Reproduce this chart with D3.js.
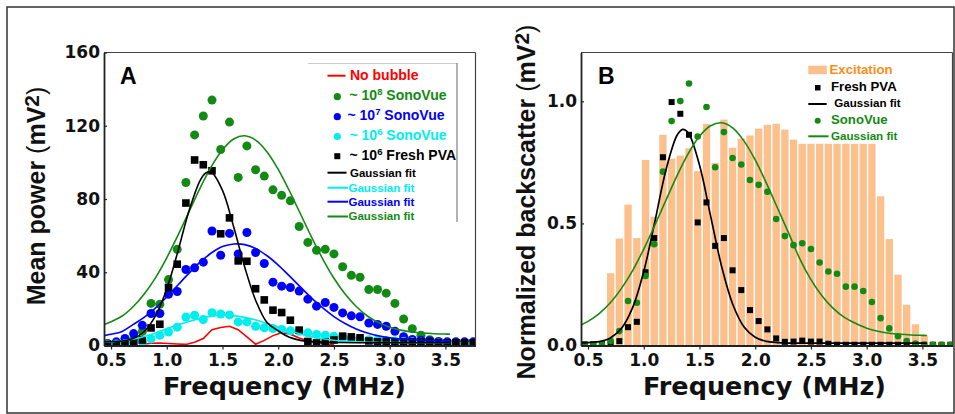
<!DOCTYPE html>
<html><head><meta charset="utf-8">
<script src="https://cdn.jsdelivr.net/npm/d3@7"></script>
<style>body{margin:0;background:#fff} svg{display:block}</style>
</head><body><svg id="c" width="955" height="414"></svg>
<script>
// ---------- data ----------
const freqs = [0.469,0.547,0.625,0.703,0.781,0.859,0.938,1.016,1.094,1.172,1.250,1.328,1.406,1.484,1.563,1.641,1.719,1.797,1.875,1.953,2.031,2.109,2.188,2.266,2.344,2.422,2.500,2.578,2.656,2.734,2.813,2.891,2.969,3.047,3.125,3.203,3.281,3.359,3.438,3.516,3.594,3.672,3.750];
// Panel A (mean power, mV^2)
const sono8A = [1,1,2,3.5,7.7,23,22.5,36,52.5,89,115,125.3,134,107,122,91.8,109,96,92.5,85,82,79,65,56.3,52,52.5,50,43,38.3,37.3,30.6,30.6,28.6,23,14.5,9.2,5.6,3.2,1.4,0.6,0.5,0.5,0.5];
const sono7A = [1,2,3.8,6.5,11,17.5,17.5,28,29.5,41.5,42.4,45.5,62.5,49.3,61.2,50,61.7,50.8,44.8,34.6,32.4,31.7,29.7,25.3,21.5,23.5,20.8,17.8,16.2,15.7,12.3,11.5,10.5,7.8,4.8,3.3,2.9,2.6,2.2,2,2,2,2];
const sono6A = [0.5,0.8,1,1.5,2,3.6,5.6,7.4,10,15.5,16.5,14.2,17.9,17.2,16.7,12.9,12.9,10.5,9.7,9.3,8.8,8,7.8,6.9,6,5.6,5,4.5,4,3.6,3.2,3,2.7,2.5,2.2,2,1.8,1.6,1.4,1.2,1,1,1];
const pvaA = [0.5,0.5,1,1.5,3,9.6,11.6,31.7,44.4,77.8,101.3,98.7,95.4,61,69.7,46.2,46,31,24.9,19.3,18,13.8,8.4,2.2,1.4,2,3,5.1,4.7,4.2,2.5,2,2,2,2,2,2,2,1.5,1.5,1.5,1.5,1.5];
const redFreq = [0.781,0.859,0.938,1.016,1.094,1.172,1.250,1.328,1.406,1.484,1.563,1.641,1.719,1.797,1.875,1.953,2.031,2.109,2.188,2.266,2.344,2.422,2.500];
const noBubbleA = [0.7,1.2,1.4,1.1,0.8,0.6,1.8,3.8,8.6,9.8,10.5,8.6,4.7,0.7,2.8,5.4,7.0,6.2,4.1,2.6,1.6,1.0,0.5];
// Gaussian fit curves
const fitFreq = [0.44,0.5,0.6,0.7,0.8,0.9,1.0,1.1,1.2,1.3,1.4,1.5,1.6,1.7,1.8,1.9,2.0,2.1,2.2,2.3,2.4,2.5,2.6,2.7,2.8,2.9,3.0,3.1,3.2,3.3,3.4,3.5,3.54];
const blackFitFreq = [0.44,0.5,0.6,0.7,0.8,0.9,1.0,1.1,1.2,1.3,1.35,1.4,1.5,1.6,1.7,1.8,1.9,2.0,2.1,2.2,2.3,2.5,2.7,2.9,3.1,3.3,3.54];
const greenFitA = [11.5,13,16.1,21.3,28.3,37.1,47.9,60.1,73.1,86.1,97.7,106.9,112.8,114.5,112.0,105.7,96.2,84.5,71.8,59.1,47.2,36.7,28.1,21.3,16.1,12.5,10.0,8.4,7.4,6.8,6.45,6.25,6.2];
const blueFitA = [5.4,6.1,7.7,11.5,15.5,20.5,26.5,33,39.5,45.5,50.5,54,55.4,55.1,52.9,49.0,43.9,38.0,31.9,25.9,20.5,15.8,12.0,9.0,6.8,5.25,4.2,3.5,3.1,2.8,2.65,2.55,2.55];
const cyanFitA = [1.8,2.0,2.6,3.5,4.9,6.8,9.2,11.2,13.15,14.8,16.0,16.5,16.3,15.35,13.9,12.0,10.0,8.0,6.3,4.8,3.7,2.9,2.3,2.0,1.8,1.65,1.6,1.55,1.5,1.5,1.5,1.5,1.5];
const blackFitA = [2.0,2.1,2.5,3.8,7.8,16.3,30.9,51.4,73.6,90.2,94.2,94.6,84.7,64.9,42.7,24.3,12.5,8,4.5,2.8,2.1,1.7,1.5,1.5,1.5,1.5,1.5];
// Panel B (normalized backscatter)
const barFreq = freqs.slice(3);
const excitationB = [0.296,0.438,0.577,0.44,0.76,0.527,0.863,0.765,0.778,0.808,0.714,0.908,0.748,0.925,0.81,0.847,0.86,0.888,0.904,0.908,0.884,0.843,0.826,0.826,0.826,0.826,0.826,0.826,0.826,0.826,0.826,0.611,0.436,0.29,0.167,0.087,0.041,0.015,0.01,0.01];
const pvaB = [0.005,0.005,0.005,0.01,0.018,0.075,0.097,0.3,0.44,0.771,0.997,0.949,0.863,0.504,0.586,0.408,0.44,0.308,0.227,0.145,0.1,0.066,0.029,0.015,0.016,0.02,0.016,0.016,0.007,0.003,0.003,0.003,0.003,0.003,0.003,0.003,0.003,0.003,0.003,0.003,0.003,0.003,0.003];
const sonoB = [0.0,0.004,0.004,0.018,0.059,0.182,0.175,0.285,0.415,0.712,0.919,1.001,1.073,0.856,0.977,0.73,0.874,0.768,0.741,0.678,0.658,0.63,0.518,0.448,0.411,0.419,0.395,0.34,0.303,0.294,0.241,0.241,0.223,0.178,0.112,0.07,0.038,0.018,0.008,0.003,0.003,0.003,0.003];
const blackFitB = [0.011,0.012,0.016,0.031,0.070,0.155,0.303,0.508,0.720,0.862,0.885,0.870,0.739,0.530,0.321,0.167,0.076,0.034,0.017,0.012,0.01,0.01,0.01,0.01,0.01,0.01,0.01];
const greenFitB = [0.085,0.099,0.131,0.175,0.234,0.307,0.395,0.493,0.596,0.697,0.787,0.857,0.900,0.912,0.890,0.837,0.760,0.665,0.563,0.460,0.355,0.27,0.203,0.152,0.115,0.091,0.071,0.0585,0.0505,0.0458,0.043,0.0415,0.041];
const xTicks = [0.5,1.0,1.5,2.0,2.5,3.0,3.5];
const yTicksA = [0,40,80,120,160];
const yTicksB = [0,0.5,1.0];

// ---------- styles ----------
const C = {green:"#138a13", blue:"#0000ff", cyan:"#00eeee", red:"#ff0000", black:"#000", bar:"#fcc08c", orange:"#ff8c1a"};
const TICKFONT = "'DejaVu Sans', sans-serif";
const ARIAL = "'Liberation Sans', Arial, sans-serif";

const svg = d3.select("#c");
svg.append("rect").attr("x",7).attr("y",7).attr("width",947).attr("height",406)
  .attr("fill","none").attr("stroke","#333").attr("stroke-width",1.5);

const xDomain = [0.437, 3.77];
const PW = 371.5, PH = 293, PTOP = 52.5;

function makePanel(x0, yDomain, yTicks, yFmt, id) {
  const g = svg.append("g").attr("transform", `translate(${x0},${PTOP})`);
  const x = d3.scaleLinear().domain(xDomain).range([0, PW]);
  const y = d3.scaleLinear().domain(yDomain).range([PH, 0]);
  g.append("clipPath").attr("id", "clip" + id).append("rect").attr("width", PW).attr("height", PH);
  const plot = g.append("g").attr("clip-path", `url(#clip${id})`);
  const top = g.append("g");
  // frame top/right
  top.append("line").attr("x1",0).attr("x2",PW).attr("y1",0).attr("y2",0).attr("stroke","#444").attr("stroke-width",1);
  top.append("line").attr("x1",PW).attr("x2",PW).attr("y1",0).attr("y2",PH).attr("stroke","#444").attr("stroke-width",1.2);
  const xa = top.append("g").attr("transform",`translate(0,${PH})`)
    .call(d3.axisBottom(x).tickValues(xTicks).tickFormat(d3.format(".1f")).tickSizeInner(4).tickSizeOuter(0).tickPadding(4));
  const ya = top.append("g")
    .call(d3.axisLeft(y).tickValues(yTicks).tickFormat(yFmt).tickSizeInner(-3).tickSizeOuter(0).tickPadding(4));
  [xa, ya].forEach(a => {
    a.select(".domain").attr("stroke","#222").attr("stroke-width",1.8);
    a.selectAll(".tick line").attr("stroke","#222").attr("stroke-width",1.2);
    a.selectAll(".tick text").attr("font-family",TICKFONT).attr("font-weight","bold")
      .attr("font-size",17).attr("fill","#111");
  });
  return {g, x, y, plot, top};
}

// ---------- Panel A ----------
const A = makePanel(104, [0,160], yTicksA, d3.format("d"), "A");
const lineA = d3.line().x(d => A.x(d[0])).y(d => A.y(d[1]));
const curveA = d3.line().x(d => A.x(d[0])).y(d => A.y(d[1])).curve(d3.curveCatmullRom.alpha(0.5));
A.plot.append("path").datum(d3.zip(redFreq, noBubbleA)).attr("d", lineA)
  .attr("fill","none").attr("stroke",C.red).attr("stroke-width",1.6);
function dotsA(vals, color) {
  A.plot.append("g").selectAll("circle").data(d3.zip(freqs, vals)).join("circle")
    .attr("cx", d => A.x(d[0])).attr("cy", d => A.y(d[1])).attr("r", 4.5).attr("fill", color);
}
dotsA(sono8A, C.green);
dotsA(sono7A, C.blue);
dotsA(sono6A, C.cyan);
A.plot.append("g").selectAll("rect").data(d3.zip(freqs, pvaA)).join("rect")
  .attr("x", d => A.x(d[0]) - 3.8).attr("y", d => A.y(d[1]) - 3.8).attr("width", 7.6).attr("height", 7.6).attr("fill", C.black);
[[fitFreq, greenFitA, C.green],[fitFreq, blueFitA, C.blue],[fitFreq, cyanFitA, C.cyan],[blackFitFreq, blackFitA, C.black]]
  .forEach(([fx, fy, col]) => {
    A.plot.append("path").datum(d3.zip(fx, fy)).attr("d", curveA)
      .attr("fill","none").attr("stroke",col).attr("stroke-width",1.6);
  });

// ---------- Panel B ----------
const B = makePanel(581, [0,1.2], yTicksB, d3.format(".1f"), "B");
const curveB = d3.line().x(d => B.x(d[0])).y(d => B.y(d[1])).curve(d3.curveCatmullRom.alpha(0.5));
const binW = B.x(0.078125) - B.x(0);
B.plot.append("g").selectAll("rect").data(d3.zip(barFreq, excitationB)).join("rect")
  .attr("x", d => B.x(d[0]) - binW*0.42).attr("width", binW*0.84)
  .attr("y", d => B.y(d[1])).attr("height", d => B.y(0) - B.y(d[1])).attr("fill", C.bar);
B.plot.append("g").selectAll("rect").data(d3.zip(freqs, pvaB)).join("rect")
  .attr("x", d => B.x(d[0]) - 3).attr("y", d => B.y(d[1]) - 3).attr("width", 6).attr("height", 6).attr("fill", C.black);
B.plot.append("g").selectAll("circle").data(d3.zip(freqs, sonoB)).join("circle")
  .attr("cx", d => B.x(d[0])).attr("cy", d => B.y(d[1])).attr("r", 3.3).attr("fill", C.green);
B.plot.append("path").datum(d3.zip(blackFitFreq, blackFitB)).attr("d", curveB)
  .attr("fill","none").attr("stroke",C.black).attr("stroke-width",1.7);
B.plot.append("path").datum(d3.zip(fitFreq, greenFitB)).attr("d", curveB)
  .attr("fill","none").attr("stroke",C.green).attr("stroke-width",1.6);

// ---------- titles ----------
function yTitle(x, yc, label) {
  const t = svg.append("text").attr("transform", `translate(${x},${yc}) rotate(-90)`)
    .attr("text-anchor","middle").attr("font-family",ARIAL).attr("font-weight","bold")
    .attr("font-size",25).attr("fill","#111");
  t.append("tspan").text(label + " ");
  t.append("tspan").attr("font-weight","normal").text("(");
  t.append("tspan").text("mV");
  t.append("tspan").attr("dy",-6).attr("font-size",21).text("2");
  t.append("tspan").attr("dy",6).attr("font-weight","normal").text(")");
}
yTitle(45, 196, "Mean power");
yTitle(535, 202, "Normalized backscatter");
[[284.5],[764.5]].forEach(([cx]) => {
  svg.append("text").attr("x",cx).attr("y",395).attr("text-anchor","middle")
    .attr("font-family",TICKFONT).attr("font-weight","bold").attr("font-size",25.5).attr("fill","#111")
    .text("Frequency (MHz)");
});
svg.append("text").attr("x",120).attr("y",84).attr("font-family",ARIAL).attr("font-weight","bold").attr("font-size",23).text("A");
svg.append("text").attr("x",598).attr("y",84).attr("font-family",ARIAL).attr("font-weight","bold").attr("font-size",23).text("B");

// ---------- legends ----------
function ltext(x, y, parts, color, size) {
  const t = svg.append("text").attr("x",x).attr("y",y).attr("font-family",ARIAL)
    .attr("font-weight","bold").attr("font-size",size).attr("fill",color);
  let shift = 0;
  parts.forEach(p => {
    if (typeof p === "string") {
      t.append("tspan").attr("dy", -shift).text(p); shift = 0;
    } else {
      t.append("tspan").attr("dy", -5).attr("font-size", size*0.68).text(p.sup); shift = -5;
    }
  });
}
function lline(x1, x2, y, color) {
  svg.append("line").attr("x1",x1).attr("x2",x2).attr("y1",y).attr("y2",y).attr("stroke",color).attr("stroke-width",2);
}
// Legend A
svg.append("line").attr("x1",308).attr("x2",457).attr("y1",63.5).attr("y2",63.5).attr("stroke","#ccc").attr("stroke-width",1);
svg.append("line").attr("x1",457).attr("x2",457).attr("y1",63).attr("y2",222).attr("stroke","#666").attr("stroke-width",1);
lline(327.5, 345.5, 75.7, C.red);
ltext(350, 79.5, ["No bubble"], C.red, 14);
svg.append("circle").attr("cx",337.3).attr("cy",96.7).attr("r",3.6).attr("fill",C.green);
ltext(349.5, 100, ["~ 10", {sup:"8"}, " SonoVue"], C.green, 14);
svg.append("circle").attr("cx",337.3).attr("cy",116.7).attr("r",3.6).attr("fill",C.blue);
ltext(347.5, 120, ["~ 10", {sup:"7"}, " SonoVue"], C.blue, 14);
svg.append("circle").attr("cx",337.3).attr("cy",136.5).attr("r",3.6).attr("fill",C.cyan);
ltext(349.5, 140, ["~ 10", {sup:"6"}, " SonoVue"], C.cyan, 14);
svg.append("rect").attr("x",334.3).attr("y",153.2).attr("width",6).attr("height",6).attr("fill",C.black);
ltext(349.5, 159.5, ["~ 10", {sup:"6"}, " Fresh PVA"], C.black, 14);
lline(327.5, 346.5, 172.7, C.black);
ltext(350, 176.5, ["Gaussian fit"], C.black, 11.5);
lline(327.5, 348, 187.7, C.cyan);
ltext(348.5, 191.5, ["Gaussian fit"], C.cyan, 11.5);
lline(327.5, 348, 201.7, C.blue);
ltext(348.5, 205.5, ["Gaussian fit"], C.blue, 11.5);
lline(327.5, 348, 216.5, C.green);
ltext(348.5, 220.3, ["Gaussian fit"], C.green, 11.5);
// Legend B
svg.append("rect").attr("x",808.3).attr("y",65.7).attr("width",18.5).attr("height",8.5).attr("fill",C.bar);
ltext(829.5, 73.5, ["Excitation"], C.orange, 13.2);
svg.append("rect").attr("x",815).attr("y",85).attr("width",5.5).attr("height",5.5).attr("fill",C.black);
ltext(831, 91, ["Fresh PVA"], C.black, 13.2);
lline(808.3, 826.7, 104, C.black);
ltext(834.3, 107, ["Gaussian fit"], C.black, 11.6);
svg.append("circle").attr("cx",817.7).attr("cy",120.7).attr("r",3).attr("fill",C.green);
ltext(831, 124.3, ["SonoVue"], C.green, 13.2);
lline(808.3, 828.5, 136.3, C.green);
ltext(831, 140, ["Gaussian fit"], C.green, 11.6);
</script></body></html>
